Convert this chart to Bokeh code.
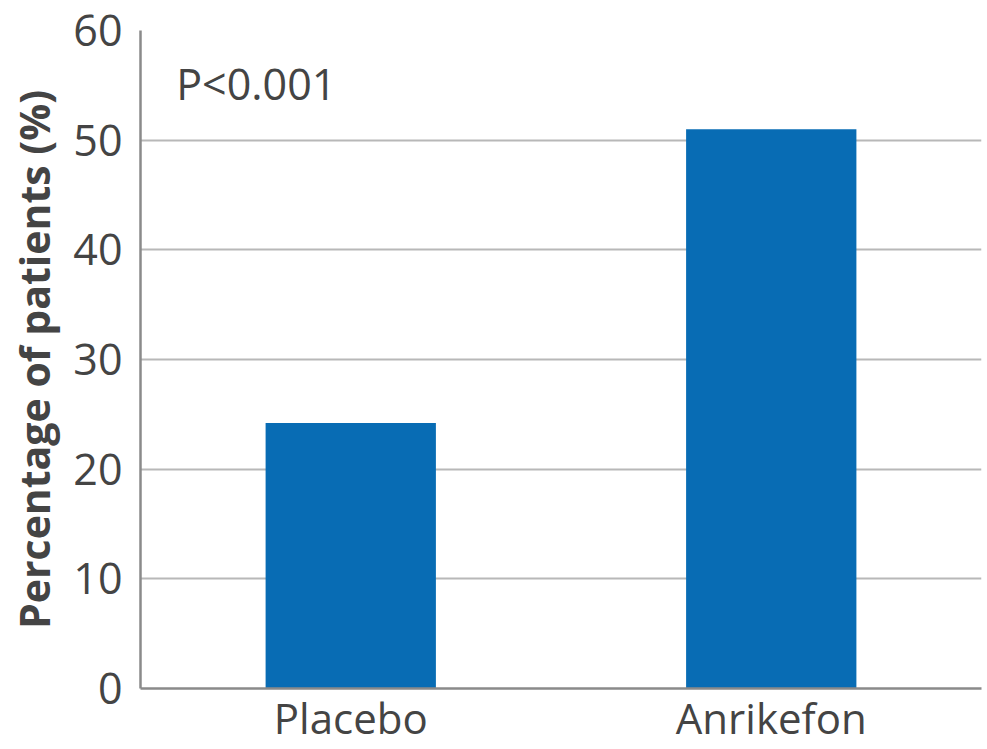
from bokeh.plotting import figure
from bokeh.models import Range1d, Label
from bokeh.embed import file_html
from bokeh.resources import INLINE

categories = ["Placebo", "Anrikefon"]
percentages = [24.2, 51.0]
y_ticks = [0, 10, 20, 30, 40, 50, 60]
p_value_text = "P<0.001"

FONT = "Open Sans"
TEXT = "#444444"

p = figure(x_range=categories, y_range=Range1d(0, 60), width=982, height=748,
           output_backend="svg", toolbar_location=None,
           min_border_left=140, min_border_right=1, min_border_top=30, min_border_bottom=0)
p.outline_line_color = None
p.background_fill_color = "white"
p.border_fill_color = "white"

p.vbar(x=categories, top=percentages, width=0.405, fill_color="#086cb4", line_color=None)

p.yaxis.ticker = y_ticks
p.xgrid.grid_line_color = None
p.ygrid.grid_line_color = "#b8b8b8"
p.ygrid.grid_line_width = 2

for ax in (p.xaxis[0], p.yaxis[0]):
    ax.axis_line_color = "#8a8a8a"
    ax.axis_line_width = 2.5
    ax.major_tick_line_color = None
    ax.minor_tick_line_color = None
    ax.major_tick_out = 0
    ax.major_tick_in = 0
    ax.major_label_text_font = FONT
    ax.major_label_text_color = TEXT

p.yaxis.major_label_text_font_size = "43px"
p.xaxis.major_label_text_font_size = "42px"
p.yaxis.major_label_standoff = 18
p.xaxis.major_label_standoff = 0
p.yaxis.axis_label = "Percentage of patients (%)"
p.yaxis.axis_label_text_font = FONT
p.yaxis.axis_label_text_font_style = "bold"
p.yaxis.axis_label_text_font_size = "41px"
p.yaxis.axis_label_text_color = TEXT
p.yaxis.axis_label_standoff = 8
p.x_range.range_padding = 0.0

p.add_layout(Label(x=0.085, y=55.2, x_units="data", text=p_value_text,
                   text_font=FONT, text_font_size="43px", text_color=TEXT,
                   text_baseline="middle", text_align="left"))

open("out.html", "w").write(file_html(p, INLINE))
